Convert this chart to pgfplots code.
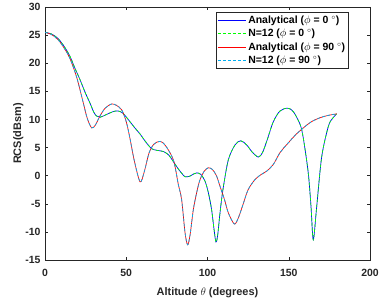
\documentclass[border=0pt]{standalone}
\usepackage{fontspec}
\setmainfont{Liberation Sans}
\usepackage{pgfplots}
\pgfplotsset{compat=1.18}
\usepackage{pgfplotstable}
\usetikzlibrary{calc}
\definecolor{axgray}{gray}{0.15}

\pgfplotstableread{
x y
0 25.5
4 25.2
8 24.4
12 22.9
15.4 21.2
18 19.4
21.5 17.1
25 14.6
27.7 12.9
30 11.3
31.8 10.6
34 10.4
38 10.9
42 11.4
45 11.5
48 11.1
52 9.7
55 8.6
58.5 7.4
62 6.0
65.6 4.8
69 4.5
72.8 4.3
76 3.7
79 2.5
82 1.2
84.5 0.3
86.2 -0.2
89 -0.1
91.5 0.3
93.5 0.5
96 0.2
98.5 -1.0
100.5 -3.0
102.5 -6.0
104 -9.5
105.2 -11.8
106.3 -10.5
107.7 -6.6
109.5 -2.5
112.8 2.8
117 5.5
120.5 6.2
124 5.5
127.5 4.2
131.3 3.3
134 4.2
137 6.6
140.5 9.6
144.6 11.5
149.3 12.0
152.8 11.4
157 9.1
159 6.6
162 0.5
163.7 -5.5
165.1 -11.4
167.2 -5.5
170.3 3.4
174.4 8.8
177 10.2
179.5 11.0
}\phizero

\pgfplotstableread{
x y
0 25.5
4 25.1
8 24.2
12 22.6
15.4 20.8
19.5 17.5
23.6 12.9
26 10.2
28.7 8.5
31 9.0
33.8 10.6
37 12.0
41 12.75
44 12.5
47.2 11.7
50 9.6
52.3 6.6
55 2.6
58.5 -1.1
61 0.6
64 4.0
67 5.6
70.8 6.1
74 5.4
79 2.8
82 -1.5
84.1 -4.3
86.2 -10.2
87.8 -12.3
89.3 -10.5
91.3 -6.0
93.5 -2.8
95.4 -0.7
98 0.8
100.5 1.4
103 1.1
105.5 0.0
107.7 -1.9
110.5 -4.3
112.8 -6.6
116.5 -8.6
119 -7.5
122 -5.0
125 -2.5
129.2 -0.7
133 0.2
136.4 0.8
140.5 2.0
144.6 4.1
148.7 5.5
154 7.2
159 8.5
164 9.6
169.2 10.3
174 10.7
179.5 11.0
}\phininety

\begin{document}
\begin{tikzpicture}
\begin{axis}[
  scale only axis,
  width=325bp, height=253bp,
  xmin=0, xmax=200, ymin=-15, ymax=30,
  xtick={0,50,...,200}, ytick={-15,-10,...,30},
  tick align=inside,
  major tick length=3bp,
  axis line style={axgray, line width=0.5pt},
  every tick/.style={axgray, line width=0.5pt},
  /pgf/number format/assume math mode=true,
  tick label style={font=\bfseries\fontsize{10.5}{12}\selectfont, text=axgray},
  xticklabel style={yshift=-6bp},
  yticklabel style={xshift=-1bp},
  xlabel={\bfseries Altitude $\theta$ (degrees)},
  ylabel={\bfseries RCS(dBsm)},
  label style={font=\bfseries\fontsize{11}{13}\selectfont, text=axgray},
  xlabel style={yshift=-3.5bp},
  ylabel style={yshift=-5bp},
  legend style={at={(0.935,0.98)}, anchor=north east,
    font=\bfseries\fontsize{10.5}{12.5}\selectfont,
    draw=axgray, line width=0.5pt, fill=white,
    row sep=0.3bp, inner sep=1.5bp},
  legend cell align=left,
  legend image code/.code={\draw[#1] (0bp,0bp) -- (28bp,0bp);},
]
\addplot[blue, line width=0.7pt, smooth] table[x=x,y=y] {\phizero};
\addlegendentry{Analytical ($\phi$ = 0 $^{\circ}$)}
\addplot[green, line width=0.7pt, smooth, dash pattern=on 3bp off 2bp] table[x=x,y=y] {\phizero};
\addlegendentry{N=12 ($\phi$ = 0 $^{\circ}$)}
\addplot[red, line width=0.7pt, smooth] table[x=x,y=y] {\phininety};
\addlegendentry{Analytical ($\phi$ = 90 $^{\circ}$)}
\addplot[cyan, line width=0.7pt, smooth, dash pattern=on 3bp off 2bp] table[x=x,y=y] {\phininety};
\addlegendentry{N=12 ($\phi$ = 90 $^{\circ}$)}
\end{axis}
\pgfresetboundingbox
\path ($(current axis.south west)+(-45bp,-39bp)$) rectangle ($(current axis.north east)+(12bp,7bp)$);
\end{tikzpicture}
\end{document}
